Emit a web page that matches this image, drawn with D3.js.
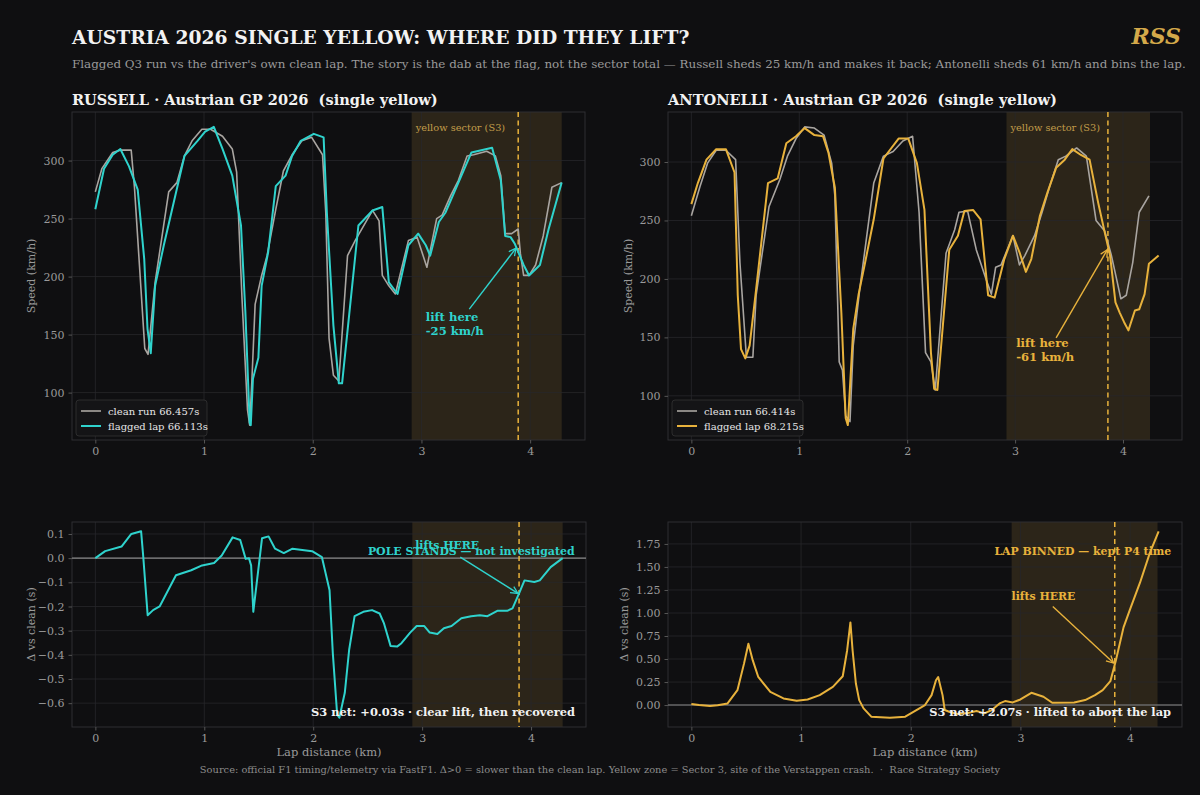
<!DOCTYPE html>
<html><head><meta charset="utf-8">
<script src="https://cdn.jsdelivr.net/npm/d3@7"></script>
<style>
html,body{margin:0;padding:0;background:#0f0f11;}
svg{display:block;font-family:"DejaVu Serif",serif;}
svg text{white-space:pre;}
</style></head><body>
<svg id="chart" width="1200" height="795"></svg>
<script>
// ---------- DATA ----------
const xTicks = [0, 1, 2, 3, 4];
const speedTicks = [100, 150, 200, 250, 300];
const rusDeltaTicks = [0.1, 0.0, -0.1, -0.2, -0.3, -0.4, -0.5, -0.6];
const antDeltaTicks = [0.00, 0.25, 0.50, 0.75, 1.00, 1.25, 1.50, 1.75];

// Russell clean run (66.457s)
const rusCleanKm  = [0.00,0.06,0.16,0.23,0.33,0.36,0.455,0.485,0.55,0.675,0.75,0.82,0.89,0.98,1.06,1.17,1.26,1.30,1.35,1.40,1.42,1.44,1.47,1.53,1.58,1.66,1.73,1.81,1.90,1.99,2.09,2.12,2.15,2.19,2.24,2.32,2.39,2.55,2.61,2.64,2.70,2.76,2.88,2.96,3.05,3.14,3.19,3.27,3.34,3.42,3.48,3.60,3.68,3.73,3.77,3.83,3.89,3.91,3.94,3.99,4.05,4.12,4.20,4.29];
const rusCleanKmh = [273,293,307,309,309,277,138,133,195,273,281,304,317,327,327,321,310,290,180,85,72,110,176,201,218,258,291,305,317,320,305,255,147,115,110,218,231,257,248,201,192,185,231,234,208,250,253,270,283,304,305,308,304,287,237,237,241,220,201,201,210,235,277,281];
// Russell flagged lap (66.113s)
const rusFlagKm  = [0.00,0.08,0.16,0.23,0.31,0.39,0.45,0.48,0.51,0.55,0.63,0.82,0.94,1.01,1.09,1.17,1.26,1.34,1.38,1.42,1.43,1.45,1.50,1.53,1.59,1.66,1.75,1.81,1.89,2.01,2.10,2.13,2.19,2.24,2.27,2.42,2.55,2.64,2.70,2.78,2.88,2.97,3.04,3.08,3.16,3.22,3.46,3.65,3.73,3.77,3.82,3.86,3.94,3.99,4.09,4.17,4.29];
const rusFlagKmh = [258,293,305,310,295,275,215,155,134,192,227,304,317,325,329,310,287,244,170,74,72,112,130,192,221,278,287,304,317,323,320,255,158,108,108,244,257,260,195,185,227,237,227,218,247,255,307,311,283,235,234,228,210,201,210,241,281];
// Antonelli clean run (66.414s)
const antCleanKm  = [0.00,0.08,0.15,0.23,0.32,0.41,0.45,0.51,0.57,0.60,0.72,0.82,0.89,0.97,1.05,1.14,1.23,1.30,1.33,1.37,1.40,1.43,1.47,1.50,1.56,1.69,1.78,1.87,1.96,2.05,2.11,2.17,2.22,2.26,2.36,2.44,2.48,2.56,2.64,2.73,2.78,2.82,2.87,2.98,3.04,3.09,3.18,3.25,3.32,3.40,3.47,3.57,3.66,3.75,3.83,3.89,3.94,3.98,4.03,4.09,4.15,4.24];
const antCleanKmh = [254,279,299,310,310,302,214,133,133,186,262,285,305,320,330,329,323,299,271,129,122,83,78,143,191,282,305,309,318,322,257,137,129,105,222,242,257,258,225,200,187,210,212,237,212,220,237,257,279,302,305,312,305,250,241,221,200,183,186,214,257,271];
// Antonelli flagged lap (68.215s)
const antFlagKm  = [0.00,0.06,0.14,0.23,0.32,0.40,0.43,0.46,0.50,0.54,0.60,0.71,0.80,0.88,0.97,1.05,1.14,1.22,1.27,1.33,1.39,1.43,1.45,1.50,1.55,1.61,1.69,1.78,1.92,2.01,2.09,2.16,2.22,2.25,2.28,2.39,2.47,2.53,2.61,2.68,2.75,2.81,2.90,2.98,3.04,3.10,3.15,3.23,3.30,3.38,3.46,3.53,3.61,3.69,3.77,3.83,3.88,3.93,3.97,4.01,4.05,4.11,4.15,4.20,4.24,4.33];
const antFlagKmh = [264,282,302,311,311,291,186,140,132,143,191,282,286,316,322,329,323,322,308,278,171,81,75,157,187,214,251,303,320,320,299,259,137,106,105,225,237,258,259,251,186,184,217,237,223,206,217,254,274,295,302,311,306,302,265,240,220,180,171,163,156,173,174,187,213,220];

// Russell delta vs clean (s)
const rusDeltaKm = [0.00,0.09,0.24,0.33,0.42,0.44,0.48,0.53,0.59,0.74,0.88,0.98,1.09,1.16,1.26,1.33,1.38,1.41,1.43,1.45,1.53,1.59,1.65,1.73,1.81,1.99,2.08,2.15,2.18,2.22,2.24,2.29,2.33,2.38,2.46,2.54,2.61,2.65,2.71,2.77,2.81,2.89,2.95,3.02,3.07,3.14,3.20,3.27,3.36,3.45,3.53,3.60,3.69,3.78,3.83,3.89,3.94,4.03,4.08,4.18,4.29];
const rusDelta   = [0.000,0.029,0.048,0.100,0.111,0.004,-0.236,-0.215,-0.200,-0.071,-0.050,-0.030,-0.020,0.011,0.086,0.075,-0.003,0.000,-0.030,-0.222,0.082,0.090,0.039,0.021,0.039,0.029,0.004,-0.133,-0.393,-0.647,-0.660,-0.557,-0.379,-0.240,-0.222,-0.215,-0.229,-0.270,-0.363,-0.366,-0.352,-0.308,-0.281,-0.281,-0.308,-0.314,-0.290,-0.281,-0.249,-0.240,-0.236,-0.240,-0.218,-0.218,-0.208,-0.146,-0.092,-0.099,-0.092,-0.037,0.000];
// Antonelli delta vs clean (s)
const antDeltaKm = [0.00,0.07,0.17,0.24,0.33,0.42,0.48,0.52,0.56,0.61,0.72,0.84,0.96,1.06,1.17,1.29,1.38,1.42,1.45,1.47,1.50,1.53,1.57,1.64,1.81,1.95,2.13,2.19,2.23,2.25,2.29,2.31,2.35,2.42,2.51,2.60,2.67,2.74,2.81,2.86,2.93,3.00,3.10,3.21,3.29,3.49,3.59,3.68,3.75,3.82,3.87,3.94,4.00,4.09,4.18,4.26];
const antDelta   = [0.011,0.000,-0.011,-0.003,0.018,0.162,0.450,0.665,0.485,0.305,0.143,0.072,0.046,0.061,0.108,0.197,0.313,0.593,0.898,0.593,0.234,0.054,-0.036,-0.126,-0.137,-0.126,0.000,0.108,0.270,0.305,0.108,-0.054,-0.072,-0.097,-0.090,-0.065,-0.090,-0.054,0.018,0.043,0.029,0.061,0.133,0.090,0.025,0.029,0.054,0.108,0.162,0.259,0.485,0.844,1.042,1.329,1.653,1.887];

// yellow sector (S3) extent and flag point, km
const rusSector = [2.91, 4.29], rusFlagAt = 3.89;
const antSector = [2.92, 4.25], antFlagAt = 3.86;

// ---------- STYLE ----------
const C = {
  bg: "#0f0f11", grid: "#27272b", spine: "#2f2f33", tick: "#9a9a9a",
  clean: "#a9a5a1", cyan: "#2fd3cd", gold: "#e8b23c", white: "#f2f2f2",
  sector: "rgba(212,169,74,0.15)", sectorText: "#c29d4a"
};

const svg = d3.select("#chart");
svg.append("rect").attr("width", 1200).attr("height", 795).attr("fill", C.bg);

const defs = svg.append("defs");
function marker(id, color) {
  defs.append("marker").attr("id", id).attr("viewBox", "0 0 10 10")
    .attr("refX", 9).attr("refY", 5).attr("markerWidth", 9).attr("markerHeight", 9)
    .attr("markerUnits", "userSpaceOnUse").attr("orient", "auto")
    .append("path").attr("d", "M1,1 L9,5 L1,9").attr("fill", "none")
    .attr("stroke", color).attr("stroke-width", 1.4);
}
marker("arrC", C.cyan); marker("arrG", C.gold);

// shrink/grow a text's font so that it spans a target width
function fit(sel, target) {
  const w = sel.node().getComputedTextLength();
  const fs = parseFloat(sel.attr("font-size"));
  sel.attr("font-size", (fs * target / w).toFixed(2));
  return sel;
}

const pad = e => { const r = e[1] - e[0]; return [e[0] - 0.05 * r, e[1] + 0.05 * r]; };

function panel(o) {
  const g = svg.append("g");
  const allX = o.series.flatMap(s => s.x), allY = o.series.flatMap(s => s.y);
  const x = d3.scaleLinear().domain(pad(d3.extent(allX))).range([o.left, o.right]);
  const y = d3.scaleLinear().domain(pad(d3.extent(allY))).range([o.bottom, o.top]);

  g.append("rect").attr("x", x(o.sector[0])).attr("y", o.top)
    .attr("width", x(o.sector[1]) - x(o.sector[0])).attr("height", o.bottom - o.top)
    .attr("fill", C.sector);

  g.selectAll(".gx").data(xTicks).join("line")
    .attr("x1", d => x(d)).attr("x2", d => x(d)).attr("y1", o.top).attr("y2", o.bottom)
    .attr("stroke", C.grid).attr("stroke-width", 0.8);
  g.selectAll(".gy").data(o.yTicks).join("line")
    .attr("x1", o.left).attr("x2", o.right).attr("y1", d => y(d)).attr("y2", d => y(d))
    .attr("stroke", C.grid).attr("stroke-width", 0.8);

  g.append("rect").attr("x", o.left).attr("y", o.top).attr("width", o.right - o.left)
    .attr("height", o.bottom - o.top).attr("fill", "none").attr("stroke", C.spine).attr("stroke-width", 1);

  const ax = g.append("g").attr("transform", `translate(0,${o.bottom})`)
    .call(d3.axisBottom(x).tickValues(xTicks).tickFormat(d3.format("d")).tickSize(3.5).tickPadding(4));
  const ay = g.append("g").attr("transform", `translate(${o.left},0)`)
    .call(d3.axisLeft(y).tickValues(o.yTicks).tickFormat(o.yFmt).tickSize(3.5).tickPadding(4));
  [ax, ay].forEach(a => {
    a.select(".domain").remove();
    a.selectAll("line").attr("stroke", "#555");
    a.selectAll("text").attr("fill", C.tick).attr("font-size", 11).attr("font-family", "DejaVu Serif");
  });

  g.append("text").attr("transform", `translate(${o.ylabX},${(o.top + o.bottom) / 2}) rotate(-90)`)
    .attr("text-anchor", "middle").attr("fill", C.tick).attr("font-size", 11).text(o.ylabel);
  if (o.xlabel) g.append("text").attr("x", (o.left + o.right) / 2).attr("y", o.bottom + 29)
    .attr("text-anchor", "middle").attr("fill", C.tick).attr("font-size", 11.5).text(o.xlabel);

  if (o.zero) g.append("line").attr("x1", o.left).attr("x2", o.right).attr("y1", y(0)).attr("y2", y(0))
    .attr("stroke", "#8a8a8a").attr("stroke-width", 1.1);

  g.append("line").attr("x1", x(o.flagAt)).attr("x2", x(o.flagAt)).attr("y1", o.top).attr("y2", o.bottom)
    .attr("stroke", C.gold).attr("stroke-width", 1.5).attr("stroke-dasharray", "5,3.5");

  o.series.forEach(s => {
    const pts = s.x.map((d, i) => [d, s.y[i]]);
    g.append("path").datum(pts).attr("fill", "none").attr("stroke", s.color)
      .attr("stroke-width", s.w).attr("stroke-linejoin", "round")
      .attr("d", d3.line().x(d => x(d[0])).y(d => y(d[1])));
  });

  return { g, x, y };
}

// ---------- TITLES ----------
fit(svg.append("text").attr("x", 72).attr("y", 44).attr("fill", C.white).attr("font-size", 18.5)
  .attr("font-weight", "bold").text("AUSTRIA 2026 SINGLE YELLOW: WHERE DID THEY LIFT?"), 618);
svg.append("text").attr("x", 1181).attr("y", 44).attr("text-anchor", "end").attr("fill", "#d4a94a")
  .attr("font-size", 22).attr("font-weight", "bold").attr("font-style", "italic").text("RSS");
fit(svg.append("text").attr("x", 72).attr("y", 68).attr("fill", "#9a9a9a").attr("font-size", 12)
  .text("Flagged Q3 run vs the driver's own clean lap. The story is the dab at the flag, not the sector total — Russell sheds 25 km/h and makes it back; Antonelli sheds 61 km/h and bins the lap."), 1115);
fit(svg.append("text").attr("x", 72).attr("y", 105).attr("fill", C.white).attr("font-size", 15)
  .attr("font-weight", "bold").text("RUSSELL · Austrian GP 2026  (single yellow)"), 366);
fit(svg.append("text").attr("x", 668).attr("y", 105).attr("fill", C.white).attr("font-size", 15)
  .attr("font-weight", "bold").text("ANTONELLI · Austrian GP 2026  (single yellow)"), 389);

// ---------- PANELS ----------
const fmt0 = d3.format("d");
const tl = panel({ left: 72, right: 585, top: 112, bottom: 440, yTicks: speedTicks, yFmt: fmt0,
  sector: rusSector, flagAt: rusFlagAt, ylabel: "Speed (km/h)", ylabX: 35,
  series: [{ x: rusCleanKm, y: rusCleanKmh, color: C.clean, w: 1.6 },
           { x: rusFlagKm, y: rusFlagKmh, color: C.cyan, w: 2 }] });
const tr = panel({ left: 668, right: 1182, top: 112, bottom: 440, yTicks: speedTicks, yFmt: fmt0,
  sector: antSector, flagAt: antFlagAt, ylabel: "Speed (km/h)", ylabX: 632,
  series: [{ x: antCleanKm, y: antCleanKmh, color: C.clean, w: 1.6 },
           { x: antFlagKm, y: antFlagKmh, color: C.gold, w: 2 }] });
const bl = panel({ left: 72, right: 586, top: 522, bottom: 727, yTicks: rusDeltaTicks, yFmt: d3.format(".1f"),
  sector: rusSector, flagAt: rusFlagAt, ylabel: "Δ vs clean (s)", ylabX: 35, xlabel: "Lap distance (km)", zero: true,
  series: [{ x: rusDeltaKm, y: rusDelta, color: C.cyan, w: 2 }] });
const br = panel({ left: 668, right: 1182, top: 522, bottom: 727, yTicks: antDeltaTicks, yFmt: d3.format(".2f"),
  sector: antSector, flagAt: antFlagAt, ylabel: "Δ vs clean (s)", ylabX: 628, xlabel: "Lap distance (km)", zero: true,
  series: [{ x: antDeltaKm, y: antDelta, color: C.gold, w: 2 }] });

[[tl, rusSector], [tr, antSector]].forEach(([p, s]) => {
  p.g.append("text").attr("x", p.x(s[0]) + 4).attr("y", 131).attr("fill", C.sectorText)
    .attr("font-size", 9.8).text("yellow sector (S3)");
});

function legend(p, left, items) {
  const lg = p.g.append("g").attr("transform", `translate(${left + 4},400)`);
  lg.append("rect").attr("width", 131).attr("height", 36).attr("rx", 3)
    .attr("fill", "#141416").attr("stroke", "#333").attr("stroke-width", 0.8);
  items.forEach((it, i) => {
    lg.append("line").attr("x1", 5).attr("x2", 25).attr("y1", 11 + i * 15).attr("y2", 11 + i * 15)
      .attr("stroke", it[1]).attr("stroke-width", it[2]);
    lg.append("text").attr("x", 32).attr("y", 15 + i * 15).attr("fill", "#e6e6e6")
      .attr("font-size", 10).text(it[0]);
  });
}
legend(tl, 72, [["clean run 66.457s", C.clean, 1.6], ["flagged lap 66.113s", C.cyan, 2]]);
legend(tr, 668, [["clean run 66.414s", C.clean, 1.6], ["flagged lap 68.215s", C.gold, 2]]);

function arrow(p, from, to, color, mk) {
  p.g.append("line").attr("x1", p.x(from[0])).attr("y1", p.y(from[1]))
    .attr("x2", p.x(to[0])).attr("y2", p.y(to[1])).attr("stroke", color)
    .attr("stroke-width", 1.4).attr("marker-end", `url(#${mk})`);
}
function label(p, at, lines, color, anchor, size) {
  const t = p.g.append("text").attr("x", p.x(at[0])).attr("y", p.y(at[1])).attr("fill", color)
    .attr("font-size", size).attr("font-weight", "bold").attr("text-anchor", anchor);
  lines.forEach((l, i) => t.append("tspan").attr("x", p.x(at[0])).attr("dy", i ? 14 : 0).text(l));
  return t;
}
label(tl, [3.04, 162], ["lift here", "-25 km/h"], C.cyan, "start", 11.6);
arrow(tl, [3.44, 172], [3.87, 224.5], C.cyan, "arrC");
label(tr, [3.01, 141.5], ["lift here", "-61 km/h"], C.gold, "start", 11.6);
arrow(tr, [3.38, 149.5], [3.855, 225], C.gold, "arrG");

fit(label(bl, [4.40, 0.015], ["POLE STANDS — not investigated"], C.cyan, "end", 11), 207);
fit(label(bl, [3.23, 0.036], ["lifts HERE"], C.cyan, "middle", 11), 64);
arrow(bl, [3.35, 0.004], [3.88, -0.146], C.cyan, "arrC");
fit(bl.g.append("text").attr("x", 575).attr("y", 716).attr("text-anchor", "end").attr("fill", C.white)
  .attr("font-size", 11.5).attr("font-weight", "bold").text("S3 net: +0.03s · clear lift, then recovered"), 264);

fit(label(br, [4.375, 1.628], ["LAP BINNED — kept P4 time"], C.gold, "end", 11), 177);
fit(label(br, [3.21, 1.143], ["lifts HERE"], C.gold, "middle", 11), 64);
arrow(br, [3.295, 1.07], [3.85, 0.456], C.gold, "arrG");
fit(br.g.append("text").attr("x", 1171).attr("y", 716).attr("text-anchor", "end").attr("fill", C.white)
  .attr("font-size", 11.5).attr("font-weight", "bold").text("S3 net: +2.07s · lifted to abort the lap"), 242);

fit(svg.append("text").attr("x", 600).attr("y", 773).attr("text-anchor", "middle").attr("fill", "#8c8c8c")
  .attr("font-size", 10)
  .text("Source: official F1 timing/telemetry via FastF1. Δ>0 = slower than the clean lap. Yellow zone = Sector 3, site of the Verstappen crash.  ·  Race Strategy Society"), 801);
</script>
</body></html>
